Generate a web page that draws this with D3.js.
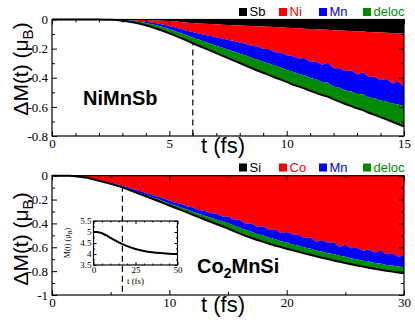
<!DOCTYPE html>
<html>
<head>
<meta charset="utf-8">
<script src="https://cdn.jsdelivr.net/npm/d3@7"></script>
<style>
  body { margin: 0; background: #fff; }
  svg text { font-family: "Liberation Sans", Arial, Helvetica, sans-serif; }
</style>
</head>
<body>
<script>
'use strict';

// ---- NiMnSb panel (t in fs, contributions to dM in muB) ----
const tTop = [0,0.25,0.5,0.75,1,1.25,1.5,1.75,2,2.25,2.5,2.75,3,3.25,3.5,3.75,4,4.25,4.5,4.75,5,5.25,5.5,5.75,6,6.25,6.5,6.75,7,7.25,7.5,7.75,8,8.25,8.5,8.75,9,9.25,9.5,9.75,10,10.25,10.5,10.75,11,11.25,11.5,11.75,12,12.25,12.5,12.75,13,13.25,13.5,13.75,14,14.25,14.5,14.75,15];
const sbTop = [0,0,0,0,0,0,0,0,0,0,0,0,0,-0.001,-0.002,-0.003,-0.004,-0.005,-0.007,-0.009,-0.011,-0.014,-0.017,-0.021,-0.025,-0.027,-0.03,-0.031,-0.033,-0.036,-0.037,-0.039,-0.041,-0.043,-0.045,-0.046,-0.048,-0.05,-0.052,-0.053,-0.056,-0.058,-0.06,-0.063,-0.065,-0.066,-0.069,-0.071,-0.074,-0.076,-0.078,-0.079,-0.082,-0.083,-0.086,-0.087,-0.089,-0.091,-0.093,-0.094,-0.096];
const niTop = [0,0,0,0,0,0,0,0,0,0,0,-0.001,-0.002,-0.003,-0.005,-0.008,-0.011,-0.016,-0.021,-0.027,-0.034,-0.041,-0.049,-0.056,-0.063,-0.069,-0.075,-0.082,-0.089,-0.095,-0.103,-0.109,-0.117,-0.123,-0.135,-0.139,-0.152,-0.155,-0.173,-0.173,-0.189,-0.194,-0.208,-0.201,-0.225,-0.222,-0.241,-0.226,-0.261,-0.259,-0.277,-0.27,-0.296,-0.28,-0.309,-0.306,-0.329,-0.318,-0.347,-0.33,-0.364];
const mnTop = [0,0,0,0,0,0,0,0,0,0,0,0,-0.001,-0.002,-0.004,-0.006,-0.009,-0.012,-0.014,-0.018,-0.021,-0.025,-0.028,-0.032,-0.037,-0.042,-0.047,-0.053,-0.058,-0.062,-0.067,-0.072,-0.077,-0.081,-0.083,-0.089,-0.09,-0.097,-0.093,-0.103,-0.101,-0.106,-0.105,-0.119,-0.111,-0.122,-0.12,-0.138,-0.125,-0.133,-0.132,-0.146,-0.134,-0.152,-0.14,-0.148,-0.138,-0.154,-0.137,-0.159,-0.136];
const delocTop = [0,0,0,0,0,0,0,0,0,-0.001,-0.002,-0.003,-0.005,-0.007,-0.009,-0.012,-0.016,-0.019,-0.023,-0.026,-0.029,-0.031,-0.034,-0.036,-0.038,-0.042,-0.045,-0.048,-0.051,-0.055,-0.058,-0.062,-0.064,-0.069,-0.07,-0.076,-0.076,-0.08,-0.08,-0.084,-0.082,-0.088,-0.086,-0.09,-0.088,-0.094,-0.089,-0.094,-0.089,-0.096,-0.093,-0.1,-0.098,-0.107,-0.105,-0.114,-0.114,-0.123,-0.125,-0.135,-0.139];

// ---- Co2MnSi panel ----
const tBot = [0,0.5,1,1.5,2,2.5,3,3.5,4,4.5,5,5.5,6,6.5,7,7.5,8,8.5,9,9.5,10,10.5,11,11.5,12,12.5,13,13.5,14,14.5,15,15.5,16,16.5,17,17.5,18,18.5,19,19.5,20,20.5,21,21.5,22,22.5,23,23.5,24,24.5,25,25.5,26,26.5,27,27.5,28,28.5,29,29.5,30];
const siBot = [0,0,0,0,0,0,0,-0.001,-0.001,-0.001,-0.001,-0.001,-0.001,-0.001,-0.001,-0.002,-0.002,-0.002,-0.002,-0.002,-0.002,-0.002,-0.002,-0.002,-0.002,-0.002,-0.002,-0.002,-0.002,-0.002,-0.002,-0.003,-0.003,-0.003,-0.003,-0.003,-0.003,-0.003,-0.003,-0.003,-0.003,-0.003,-0.003,-0.003,-0.003,-0.003,-0.003,-0.003,-0.003,-0.003,-0.003,-0.003,-0.003,-0.003,-0.003,-0.003,-0.003,-0.003,-0.003,-0.003,-0.003];
const coBot = [0,0,0,-0.001,-0.004,-0.01,-0.017,-0.026,-0.037,-0.048,-0.058,-0.07,-0.082,-0.097,-0.113,-0.127,-0.142,-0.159,-0.174,-0.19,-0.205,-0.225,-0.234,-0.255,-0.264,-0.285,-0.291,-0.313,-0.315,-0.339,-0.34,-0.367,-0.369,-0.399,-0.397,-0.428,-0.421,-0.454,-0.445,-0.48,-0.468,-0.49,-0.493,-0.52,-0.513,-0.55,-0.537,-0.56,-0.555,-0.592,-0.576,-0.605,-0.601,-0.629,-0.615,-0.64,-0.623,-0.655,-0.646,-0.677,-0.665];
const mnBot = [0,0,0,0,0,0,-0.001,-0.002,-0.003,-0.004,-0.006,-0.008,-0.01,-0.012,-0.013,-0.015,-0.017,-0.018,-0.02,-0.022,-0.025,-0.022,-0.03,-0.027,-0.036,-0.031,-0.042,-0.036,-0.05,-0.042,-0.057,-0.048,-0.064,-0.052,-0.07,-0.058,-0.078,-0.062,-0.083,-0.066,-0.088,-0.083,-0.09,-0.078,-0.094,-0.073,-0.095,-0.086,-0.098,-0.076,-0.1,-0.085,-0.096,-0.08,-0.1,-0.088,-0.11,-0.09,-0.104,-0.082,-0.1];
const delocBot = [0,0,0,0,0,0,0,0,-0.001,-0.002,-0.003,-0.004,-0.005,-0.006,-0.008,-0.009,-0.011,-0.012,-0.014,-0.016,-0.018,-0.02,-0.022,-0.024,-0.026,-0.029,-0.032,-0.035,-0.038,-0.041,-0.044,-0.046,-0.049,-0.05,-0.052,-0.05,-0.053,-0.051,-0.054,-0.05,-0.053,-0.049,-0.052,-0.05,-0.053,-0.049,-0.052,-0.05,-0.054,-0.05,-0.053,-0.049,-0.052,-0.05,-0.053,-0.049,-0.052,-0.048,-0.051,-0.049,-0.05];

// ---- inset: total moment M(t) of Co2MnSi ----
const tInset = [0,2,4,6,8,10,12,15,20,25,30,35,40,45,50];
const mInset = [5.0,5.0,4.97,4.91,4.83,4.74,4.65,4.53,4.36,4.23,4.14,4.08,4.04,4.01,4.0];

// legends and colours
const topLegend = ['Sb', 'Ni', 'Mn', 'deloc'];
const botLegend = ['Si', 'Co', 'Mn', 'deloc'];
const speciesColors = ['#000000', '#ff0000', '#0000ff', '#008b00'];

// tick values
const topXTicks = [0, 5, 10, 15];
const topXMinor = [1, 2, 3, 4, 6, 7, 8, 9, 11, 12, 13, 14];
const topYTicks = [0, -0.2, -0.4, -0.6, -0.8];
const topYMinor = [-0.1, -0.3, -0.5, -0.7];
const botXTicks = [0, 10, 20, 30];
const botXMinor = [5, 15, 25];
const botYTicks = [0, -0.2, -0.4, -0.6, -0.8, -1];
const botYMinor = [-0.1, -0.3, -0.5, -0.7, -0.9];
const insetXTicks = [0, 25, 50];
const insetXMinor = [5, 10, 15, 20, 30, 35, 40, 45];
const insetYTicks = [3.5, 4, 4.5, 5, 5.5];
const insetYMinor = [3.75, 4.25, 4.75, 5.25];

const dashTime = 6; // dashed marker line (fs)

(function() {

  const svg = d3.select('body').append('svg')
    .attr('width', 415)
    .attr('height', 323);

  // ---------- top panel ----------
  const xTop = d3.scaleLinear().domain([0, 15]).range([52, 404]);
  const yTop = d3.scaleLinear().domain([-0.8, 0]).range([136, 19.5]);

  drawStack(tTop, [sbTop, niTop, mnTop, delocTop], xTop, yTop);
  drawFrame(xTop, yTop, topXTicks, topXMinor, topYTicks, topYMinor, 5, 3, 13, 4, 3);
  drawLegend(topLegend, 8, 16);

  svg.append('text')
    .attr('x', 83).attr('y', 105)
    .style('font-size', '20px').style('font-weight', 'bold')
    .text('NiMnSb');

  yTitle(28, 69, 21);
  xTitle(201, 153, 22);

  // ---------- bottom panel ----------
  const xBot = d3.scaleLinear().domain([0, 30]).range([52, 404]);
  const yBot = d3.scaleLinear().domain([-1, 0]).range([295, 175.7]);

  drawStack(tBot, [siBot, coBot, mnBot, delocBot], xBot, yBot);
  drawFrame(xBot, yBot, botXTicks, botXMinor, botYTicks, botYMinor, 5, 3, 13, 4, 3);
  drawLegend(botLegend, 163.5, 171.5);

  let co = svg.append('text')
    .attr('x', 197).attr('y', 273)
    .style('font-size', '20px').style('font-weight', 'bold');
  co.append('tspan').text('Co');
  co.append('tspan').attr('dy', 5).style('font-size', '14px').text('2');
  co.append('tspan').attr('dy', -5).text('MnSi');

  yTitle(28, 239, 21);
  xTitle(201, 312, 22);

  // ---------- inset ----------
  const xIn = d3.scaleLinear().domain([0, 50]).range([93.5, 177.5]);
  const yIn = d3.scaleLinear().domain([3.5, 5.5]).range([265, 221]);

  drawFrame(xIn, yIn, insetXTicks, insetXMinor, insetYTicks, insetYMinor, 3, 1.5, 9, 2, 2);

  svg.append('path')
    .datum(tInset.map((t, i) => [t, mInset[i]]))
    .attr('fill', 'none')
    .attr('stroke', '#000')
    .attr('stroke-width', 2)
    .attr('d', d3.line().x(d => xIn(d[0])).y(d => yIn(d[1])).curve(d3.curveMonotoneX));

  let il = svg.append('text')
    .attr('transform', 'translate(70, 243)rotate(-90)')
    .attr('text-anchor', 'middle')
    .style('font-family', '"Liberation Serif", "Times New Roman", serif')
    .style('font-size', '8px');
  il.append('tspan').text('M(t) (\u03bc');
  il.append('tspan').attr('dy', 2).style('font-size', '6px').text('B');
  il.append('tspan').attr('dy', -2).text(')');

  svg.append('text')
    .attr('x', 135.5).attr('y', 284)
    .attr('text-anchor', 'middle')
    .style('font-family', '"Liberation Serif", "Times New Roman", serif')
    .style('font-size', '9px')
    .text('t (fs)');

  // dashed marker lines, drawn under the stacked areas
  dashLine(xTop, yTop);
  dashLine(xBot, yBot);

  // stacked contributions plus the total line
  function drawStack(times, series, x, y) {
    let rows = times.map((t, i) => series.map(s => s[i]));
    let stack = d3.stack().keys(d3.range(series.length))(rows);

    let area = d3.area()
      .x((d, i) => x(times[i]))
      .y0(d => y(d[0]))
      .y1(d => y(d[1]));

    svg.append('g').attr('class', 'areas')
      .selectAll('path')
      .data(stack)
      .enter()
      .append('path')
      .attr('fill', (d, i) => speciesColors[i])
      .attr('d', area);

    // total = lower edge of the last layer
    svg.append('path')
      .datum(stack[stack.length - 1])
      .attr('fill', 'none')
      .attr('stroke', '#000')
      .attr('stroke-width', 2)
      .attr('d', d3.line().x((d, i) => x(times[i])).y(d => y(d[1])));
  }

  // frame with inward ticks on four sides
  function drawFrame(x, y, xt, xm, yt, ym, major, minor, fontSize, padY, padX) {
    let [x0, x1] = x.range();
    let [y1, y0] = y.range();
    let fmt = d => String(d);

    let g = svg.append('g').attr('class', 'frame');

    let parts = [
      [d3.axisLeft(y).tickValues(yt).tickSize(-major).tickPadding(padY).tickFormat(fmt), x0, 0],
      [d3.axisLeft(y).tickValues(ym).tickSize(-minor).tickFormat(''), x0, 0],
      [d3.axisRight(y).tickValues(yt).tickSize(-major).tickFormat(''), x1, 0],
      [d3.axisRight(y).tickValues(ym).tickSize(-minor).tickFormat(''), x1, 0],
      [d3.axisBottom(x).tickValues(xt).tickSize(-major).tickPadding(padX).tickFormat(fmt), 0, y1],
      [d3.axisBottom(x).tickValues(xm).tickSize(-minor).tickFormat(''), 0, y1],
      [d3.axisTop(x).tickValues(xt).tickSize(-major).tickFormat(''), 0, y0],
      [d3.axisTop(x).tickValues(xm).tickSize(-minor).tickFormat(''), 0, y0]
    ];
    parts.forEach(p => {
      let a = g.append('g')
        .attr('transform', 'translate(' + p[1] + ',' + p[2] + ')')
        .call(p[0]);
      a.select('.domain').remove();
      a.selectAll('text')
        .attr('fill', '#000')
        .style('font-family', '"Liberation Serif", "Times New Roman", serif')
        .style('font-size', fontSize + 'px');
    });

    g.append('rect')
      .attr('x', x0).attr('y', y0)
      .attr('width', x1 - x0).attr('height', y1 - y0)
      .attr('fill', 'none')
      .attr('stroke', '#000')
      .attr('stroke-width', 1.2);
  }

  function drawLegend(labels, sqY, textY) {
    let xs = [239, 279, 319, 363];
    let g = svg.append('g').attr('class', 'legend');
    labels.forEach((lab, i) => {
      g.append('rect')
        .attr('x', xs[i]).attr('y', sqY)
        .attr('width', 8).attr('height', 8)
        .attr('fill', speciesColors[i]);
      g.append('text')
        .attr('x', xs[i] + 10.5).attr('y', textY)
        .attr('fill', speciesColors[i])
        .style('font-size', '13px')
        .text(lab);
    });
  }

  function yTitle(x, y, size) {
    let t = svg.append('text')
      .attr('transform', 'translate(' + x + ',' + y + ')rotate(-90)')
      .attr('text-anchor', 'middle')
      .style('font-size', size + 'px');
    t.append('tspan').text('\u0394M(t) (\u03bc');
    t.append('tspan').attr('dy', 5).style('font-size', '15px').text('B');
    t.append('tspan').attr('dy', -5).text(')');
  }

  function xTitle(x, y, size) {
    svg.append('text')
      .attr('x', x).attr('y', y)
      .style('font-size', size + 'px')
      .text('t (fs)');
  }

  function dashLine(x, y) {
    svg.insert('line', '.areas')
      .attr('x1', x(dashTime)).attr('x2', x(dashTime))
      .attr('y1', y.range()[1]).attr('y2', y.range()[0])
      .attr('stroke', '#000')
      .attr('stroke-width', 1.2)
      .attr('stroke-dasharray', '6,4');
  }

})();
</script>
</body>
</html>
